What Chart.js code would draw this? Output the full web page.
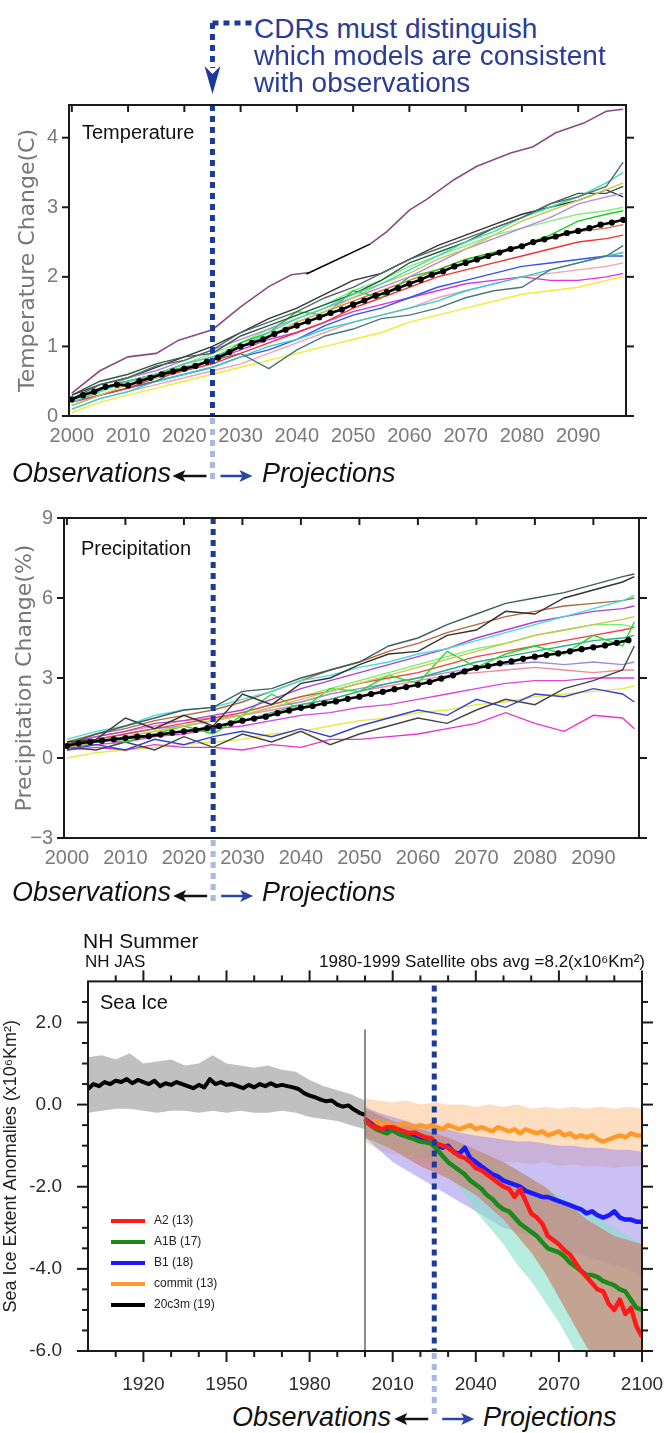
<!DOCTYPE html>
<html><head><meta charset="utf-8">
<script src="https://cdn.jsdelivr.net/npm/chart.js@4.4.1/dist/chart.umd.min.js"></script>
<style>
html,body{margin:0;padding:0;background:#fff}
body{position:relative;width:669px;height:1433px;overflow:hidden;font-family:"Liberation Sans",Arial,sans-serif}
.cv{position:absolute;left:0}
.t{position:absolute;white-space:nowrap;line-height:1}
.obs{font-style:italic;font-size:27px;color:#111}
.cdr{font-size:28px;color:#2a3c98;left:254px}
#ov{position:absolute;left:0;top:0;pointer-events:none}
</style></head><body>
<canvas id="cT" class="cv" width="669" height="378" style="top:82px"></canvas>
<canvas id="cP" class="cv" width="669" height="390" style="top:495px"></canvas>
<canvas id="cS" class="cv" width="669" height="456" style="top:944px"></canvas>

<div class="t cdr" style="top:15px">CDRs must distinguish</div>
<div class="t cdr" style="top:42px">which models are consistent</div>
<div class="t cdr" style="top:69px">with observations</div>

<div class="t" style="left:82px;top:122px;font-size:20px;color:#111">Temperature</div>
<div class="t" style="left:81px;top:538px;font-size:20px;color:#111">Precipitation</div>

<div class="t obs" style="left:12px;top:460px">Observations</div>
<div class="t obs" style="left:262px;top:460px">Projections</div>
<div class="t obs" style="left:12px;top:879px">Observations</div>
<div class="t obs" style="left:262px;top:879px">Projections</div>
<div class="t obs" style="left:232px;top:1404px">Observations</div>
<div class="t obs" style="left:483px;top:1404px">Projections</div>

<div class="t" style="left:83px;top:930px;font-size:21px;color:#111">NH Summer</div>
<div class="t" style="left:85px;top:953px;font-size:17px;color:#111">NH JAS</div>
<div class="t" style="right:24px;top:953px;font-size:17px;color:#111">1980-1999 Satellite obs avg =8.2(x10⁶Km²)</div>
<div class="t" style="left:100px;top:992px;font-size:20px;color:#111">Sea Ice</div>
<div id="legend"></div>

<svg id="ov" width="669" height="1433"></svg>

<script>
// ---------- shared ----------
const SPLIT_YEAR = 2025;

// ---------- Temperature ----------
const T_X_RANGE = [1999.5, 2098.5];
const T_Y_RANGE = [0, 4.47];
const T_XTICKS = [2000,2010,2020,2030,2040,2050,2060,2070,2080,2090];
const T_YTICKS = [0,1,2,3,4];
const T_YEARS = [2000,2005,2010,2015,2020,2025,2030,2035,2040,2045,2050,2055,2060,2065,2070,2075,2080,2085,2090,2095,2098];
const T_M01 = [0.25,0.45,0.55,0.72,0.80,0.95,1.20,1.35,1.50,1.70,1.85,2.05,2.25,2.40,2.55,2.70,2.85,3.05,3.15,3.30,3.65];
const T_M02 = [0.20,0.35,0.50,0.60,0.75,0.85,1.00,1.20,1.40,1.55,1.75,1.90,2.10,2.30,2.50,2.65,2.85,3.00,3.15,3.35,3.50];
const T_M03 = [0.15,0.30,0.45,0.55,0.70,0.80,1.00,1.15,1.35,1.50,1.70,1.90,2.05,2.25,2.40,2.60,2.80,2.95,3.10,3.25,3.35];
const T_M04 = [0.30,0.50,0.60,0.75,0.85,0.90,1.15,1.30,1.45,1.60,1.75,1.95,2.20,2.35,2.50,2.70,2.85,3.05,3.20,3.20,3.30];
const T_M05 = [0.20,0.35,0.55,0.65,0.80,0.95,1.10,1.25,1.40,1.55,1.70,1.85,2.00,2.20,2.40,2.55,2.70,2.85,3.05,3.15,3.20];
const T_M06 = [0.25,0.40,0.50,0.60,0.70,0.80,1.05,1.20,1.50,1.45,1.80,1.70,2.00,2.10,2.25,2.35,2.45,2.60,2.80,2.90,2.95];
const T_M07 = [0.25,0.40,0.50,0.60,0.75,0.85,1.00,1.15,1.35,1.50,1.65,1.80,1.95,2.10,2.25,2.35,2.45,2.55,2.65,2.70,2.75];
const T_M08 = [0.20,0.30,0.40,0.55,0.65,0.75,0.90,1.05,1.20,1.35,1.55,1.70,1.85,2.00,2.10,2.20,2.30,2.40,2.50,2.55,2.60];
const T_M09 = [0.15,0.30,0.40,0.50,0.70,0.80,0.90,0.68,0.95,1.15,1.25,1.40,1.45,1.55,1.70,1.80,1.85,2.10,2.20,2.30,2.45];
const T_M10 = [0.10,0.25,0.35,0.50,0.60,0.70,0.85,1.00,1.10,1.25,1.35,1.45,1.55,1.65,1.80,1.90,2.00,2.10,2.20,2.30,2.35];
const T_M11 = [0.20,0.30,0.40,0.50,0.60,0.70,0.85,0.95,1.10,1.30,1.45,1.55,1.70,1.85,1.95,2.05,2.15,2.20,2.25,2.30,2.30];
const T_M12 = [0.10,0.25,0.35,0.45,0.55,0.65,0.75,0.90,1.05,1.20,1.35,1.45,1.55,1.70,1.80,1.90,2.00,2.05,2.10,2.15,2.20];
const T_M13 = [0.25,0.40,0.50,0.60,0.70,0.80,0.95,1.10,1.20,1.35,1.50,1.60,1.70,1.80,1.90,1.95,2.00,1.95,1.95,2.00,2.05];
const T_M14 = [0.05,0.20,0.30,0.40,0.50,0.60,0.70,0.80,0.90,1.00,1.10,1.20,1.35,1.45,1.55,1.65,1.75,1.80,1.85,1.95,2.00];
const T_M15 = [0.20,0.35,0.50,0.60,0.75,0.90,1.05,1.25,1.45,1.60,1.80,1.95,2.15,2.30,2.45,2.60,2.70,2.80,2.90,2.95,3.00];
const T_M16 = [0.30,0.45,0.55,0.70,0.85,1.00,1.20,1.40,1.55,1.75,1.95,2.05,2.25,2.45,2.60,2.75,2.90,3.00,3.10,3.25,3.15];
const T_MODELS = [T_M01,T_M02,T_M03,T_M04,T_M05,T_M06,T_M07,T_M08,T_M09,T_M10,T_M11,T_M12,T_M13,T_M14,T_M15,T_M16];
const T_COLORS = ['#4f6b6b','#3ddcb0','#c8c850','#2e5e3e','#b585e5','#1ecb1e','#c87840','#ee3333','#4a7a7a','#33cccc','#3355ee','#f0a0b8','#dd33dd','#eeee33','#80ee80','#333333'];
const T_HIGH_YEARS = [2000,2005,2010,2015,2019,2025,2030,2035,2039,2042,2047,2053,2056,2060,2063,2068,2072,2078,2082,2086,2091,2095,2098];
const T_HIGH = [0.33,0.65,0.85,0.90,1.09,1.24,1.57,1.86,2.03,2.06,null,2.47,2.65,2.96,3.11,3.40,3.59,3.78,3.87,4.07,4.21,4.38,4.41];
const T_PATCH_YEARS = [2041.7,2053];
const T_PATCH = [2.04,2.47];
const T_MEAN_YEARS = [2000,2002,2004,2006,2008,2010,2012,2014,2016,2018,2020,2022,2024,2026,2028,2030,2032,2034,2036,2038,2040,2042,2044,2046,2048,2050,2052,2054,2056,2058,2060,2062,2064,2066,2068,2070,2072,2074,2076,2078,2080,2082,2084,2086,2088,2090,2092,2094,2096,2098];
const T_MEAN = [0.24,0.30,0.35,0.42,0.45,0.44,0.50,0.55,0.60,0.64,0.68,0.72,0.78,0.84,0.92,1.00,1.05,1.10,1.18,1.24,1.30,1.36,1.42,1.48,1.53,1.60,1.66,1.73,1.78,1.84,1.90,1.96,2.03,2.08,2.15,2.20,2.25,2.30,2.35,2.40,2.44,2.50,2.54,2.58,2.63,2.66,2.70,2.75,2.78,2.82];

// ---------- Precipitation ----------
const P_X_RANGE = [1999.5, 2097.8];
const P_Y_RANGE = [-3, 9];
const P_XTICKS = [2000,2010,2020,2030,2040,2050,2060,2070,2080,2090];
const P_YTICKS = [-3,0,3,6,9];
const P_YEARS = [2000,2005,2010,2015,2020,2025,2030,2035,2040,2045,2050,2055,2060,2065,2070,2075,2080,2085,2090,2095,2097];
const P_M01 = [0.5,0.9,1.2,1.5,1.8,1.9,2.5,2.6,3.0,3.3,3.6,4.2,4.5,5.0,5.4,5.8,6.0,6.2,6.5,6.8,6.9];
const P_M02 = [0.6,0.7,1.5,1.1,1.6,1.2,2.4,2.0,2.8,3.0,3.5,3.9,4.0,4.6,4.8,5.5,5.4,6.0,6.3,6.6,6.8];
const P_M03 = [0.7,1.0,1.2,1.6,1.8,1.9,2.2,2.5,2.9,3.1,3.4,3.6,3.9,4.1,4.4,4.7,5.0,5.3,5.6,5.9,6.1];
const P_M04 = [0.6,0.9,1.1,1.4,1.6,1.8,2.1,2.5,2.9,3.3,3.6,4.0,4.3,4.7,5.0,5.3,5.5,5.7,5.8,5.9,6.0];
const P_M05 = [0.5,0.8,1.0,1.3,1.4,1.6,1.8,2.2,2.6,2.9,3.2,3.5,3.8,4.1,4.5,4.8,5.1,5.3,5.5,5.6,5.7];
const P_M06 = [0.4,0.6,0.8,1.0,1.2,1.4,1.6,1.9,2.2,2.5,2.8,3.1,3.4,3.7,4.0,4.3,4.6,4.8,5.0,5.2,5.3];
const P_M07 = [0.5,0.7,0.6,0.9,1.2,0.9,1.6,2.4,1.8,2.6,2.5,3.1,2.8,4.0,3.4,3.9,4.2,3.9,4.6,4.2,5.1];
const P_M08 = [0.5,0.7,0.9,1.1,1.3,1.5,1.7,2.0,2.3,2.5,2.8,3.0,3.2,3.5,3.8,4.0,4.2,4.4,4.6,4.8,4.9];
const P_M09 = [0.4,0.6,0.7,0.9,1.0,1.2,1.4,1.7,2.0,2.2,2.5,2.8,3.0,3.3,3.6,3.8,4.0,4.2,4.4,4.5,4.6];
const P_M10 = [0.3,0.5,0.3,0.7,0.5,0.8,1.0,0.8,1.1,0.8,1.2,1.5,1.8,1.6,2.2,1.9,2.4,2.3,2.6,2.4,2.1];
const P_M11 = [0.4,0.3,0.6,0.3,0.8,0.4,0.9,0.6,1.0,0.5,0.9,1.2,1.5,1.3,1.8,2.2,2.0,2.6,2.9,3.3,4.2];
const P_M12 = [0.3,0.4,0.3,0.5,0.4,0.4,0.3,0.5,0.4,0.7,0.7,0.8,0.9,1.1,1.3,1.7,1.3,1.0,1.6,1.5,1.1];
const P_M13 = [0.4,0.5,0.6,0.8,0.9,1.1,1.2,1.4,1.6,1.7,1.9,2.0,2.2,2.4,2.6,2.8,2.9,2.9,3.0,3.0,3.0];
const P_M14 = [0.0,0.2,0.3,0.4,0.5,0.6,0.7,0.9,1.0,1.2,1.4,1.5,1.7,1.8,2.0,2.1,2.3,2.4,2.5,2.6,2.7];
const P_M15 = [0.5,0.7,0.9,1.1,1.2,1.4,1.6,1.9,2.1,2.4,2.6,2.8,3.0,3.2,3.4,3.5,3.6,3.5,3.6,3.5,3.6];
const P_M16 = [0.6,0.8,1.0,1.2,1.4,1.5,1.6,1.8,2.0,2.2,2.5,2.7,2.9,3.1,3.2,3.3,3.4,3.3,3.2,3.3,3.3];
const P_M17 = [0.3,0.6,0.8,1.0,1.2,1.4,1.7,2.0,2.3,2.6,2.9,3.2,3.5,3.8,4.1,4.3,4.6,4.8,5.0,5.0,4.9];
const P_MODELS = [P_M01,P_M02,P_M03,P_M04,P_M05,P_M06,P_M07,P_M08,P_M09,P_M10,P_M11,P_M12,P_M13,P_M14,P_M15,P_M16,P_M17];
const P_COLORS = ['#3f5f5f','#333333','#44dddd','#b06a3a','#b040d0','#c8c840','#22dd22','#ee4444','#33aa88','#3344cc','#444444','#ee33cc','#dd44dd','#e8e840','#9a8ae0','#f08aa0','#77ee77'];
const P_MEAN_YEARS = [2000,2002,2004,2006,2008,2010,2012,2014,2016,2018,2020,2022,2024,2026,2028,2030,2032,2034,2036,2038,2040,2042,2044,2046,2048,2050,2052,2054,2056,2058,2060,2062,2064,2066,2068,2070,2072,2074,2076,2078,2080,2082,2084,2086,2088,2090,2092,2094,2096];
const P_MEAN = [0.45,0.55,0.60,0.65,0.70,0.75,0.80,0.82,0.88,0.95,1.00,1.05,1.12,1.20,1.30,1.40,1.48,1.55,1.68,1.78,1.88,1.95,2.05,2.12,2.22,2.30,2.40,2.48,2.58,2.66,2.75,2.85,2.98,3.10,3.25,3.38,3.45,3.55,3.62,3.72,3.80,3.86,3.92,4.00,4.08,4.15,4.22,4.32,4.42];

// ---------- Sea ice ----------
const S_X_RANGE = [1900, 2100];
const S_Y_RANGE = [-6, 3];
const S_XTICKS = [1920,1950,1980,2010,2040,2070,2100];
const S_XMINOR = [1910,1930,1940,1960,1970,1990,2000,2020,2030,2050,2060,2080,2090];
const S_YTICKS = [-6,-4,-2,0,2];
const S_YMINOR = [-5.5,-5,-4.5,-3.5,-3,-2.5,-1.5,-1,-0.5,0.5,1,1.5,2.5];
const S_OBS_YEARS = [1900,1902,1904,1906,1908,1910,1912,1914,1916,1918,1920,1922,1924,1926,1928,1930,1932,1934,1936,1938,1940,1942,1944,1946,1948,1950,1952,1954,1956,1958,1960,1962,1964,1966,1968,1970,1972,1974,1976,1978,1980,1982,1984,1986,1988,1990,1992,1994,1996,1998,2000];
const S_OBS = [0.38,0.50,0.45,0.55,0.50,0.58,0.55,0.62,0.52,0.60,0.55,0.50,0.58,0.45,0.52,0.48,0.55,0.50,0.45,0.40,0.48,0.42,0.62,0.50,0.55,0.48,0.50,0.45,0.40,0.48,0.42,0.50,0.45,0.52,0.45,0.48,0.45,0.42,0.38,0.28,0.22,0.18,0.12,0.08,0.10,0.00,-0.05,-0.02,-0.12,-0.20,-0.25];
const S_OBS_BAND_YEARS = [1900,1905,1910,1915,1920,1925,1930,1935,1940,1945,1950,1955,1960,1965,1970,1975,1980,1985,1990,1995,2000];
const S_OBS_HI = [1.15,1.20,1.10,1.25,1.00,1.05,1.10,0.95,1.00,1.20,1.00,0.95,0.90,0.95,0.85,0.80,0.60,0.45,0.35,0.25,0.10];
const S_OBS_LO = [-0.20,-0.15,-0.10,-0.10,-0.15,-0.20,-0.15,-0.15,-0.20,-0.15,-0.20,-0.15,-0.20,-0.20,-0.15,-0.20,-0.30,-0.35,-0.40,-0.50,-0.60];
const S_YEARS = [2000,2002,2004,2006,2008,2010,2012,2014,2016,2018,2020,2022,2024,2026,2028,2030,2032,2034,2036,2038,2040,2042,2044,2046,2048,2050,2052,2054,2056,2058,2060,2062,2064,2066,2068,2070,2072,2074,2076,2078,2080,2082,2084,2086,2088,2090,2092,2094,2096,2098,2100];
const S_A2 = [-0.35,-0.50,-0.55,-0.60,-0.55,-0.55,-0.60,-0.65,-0.70,-0.68,-0.75,-0.80,-0.82,-0.95,-1.00,-1.05,-1.15,-1.25,-1.30,-1.40,-1.55,-1.60,-1.70,-1.80,-1.90,-2.00,-2.05,-2.25,-2.05,-2.35,-2.65,-2.75,-2.90,-3.20,-3.30,-3.40,-3.55,-3.65,-3.85,-4.05,-4.20,-4.35,-4.50,-4.55,-4.85,-5.00,-4.75,-5.10,-4.95,-5.40,-5.65];
const S_A1B = [-0.40,-0.50,-0.60,-0.65,-0.70,-0.60,-0.70,-0.75,-0.80,-0.85,-0.90,-0.92,-0.95,-1.10,-1.25,-1.40,-1.50,-1.60,-1.70,-1.85,-1.95,-2.05,-2.20,-2.30,-2.45,-2.55,-2.60,-2.75,-2.90,-3.00,-3.10,-3.20,-3.35,-3.50,-3.55,-3.60,-3.70,-3.85,-3.95,-4.05,-4.15,-4.15,-4.20,-4.30,-4.35,-4.40,-4.50,-4.55,-4.75,-4.95,-5.00];
const S_B1 = [-0.35,-0.45,-0.55,-0.60,-0.65,-0.62,-0.70,-0.75,-0.80,-0.78,-0.85,-0.90,-0.95,-1.00,-1.05,-1.00,-1.15,-1.20,-1.05,-1.30,-1.40,-1.50,-1.60,-1.70,-1.75,-1.85,-1.90,-1.95,-2.00,-2.10,-2.15,-2.20,-2.25,-2.25,-2.30,-2.35,-2.40,-2.45,-2.50,-2.55,-2.65,-2.60,-2.70,-2.75,-2.70,-2.60,-2.75,-2.80,-2.80,-2.85,-2.85];
const S_COMMIT = [-0.35,-0.45,-0.40,-0.50,-0.45,-0.55,-0.50,-0.45,-0.50,-0.55,-0.50,-0.55,-0.50,-0.55,-0.60,-0.50,-0.55,-0.60,-0.55,-0.50,-0.60,-0.55,-0.60,-0.65,-0.55,-0.60,-0.65,-0.60,-0.70,-0.60,-0.65,-0.70,-0.65,-0.75,-0.70,-0.65,-0.75,-0.70,-0.80,-0.75,-0.80,-0.75,-0.85,-0.90,-0.85,-0.80,-0.75,-0.80,-0.70,-0.75,-0.75];
const S_BAND_YEARS = [2000,2005,2010,2015,2020,2025,2030,2035,2040,2045,2050,2055,2060,2065,2070,2075,2080,2085,2090,2095,2100];
const S_COMMIT_HI = [0.15,0.10,0.05,0.10,0.00,0.05,0.00,0.00,-0.05,0.00,-0.05,0.00,-0.10,-0.05,-0.10,-0.05,-0.10,-0.05,-0.10,-0.05,-0.10];
const S_COMMIT_LO = [-0.90,-1.10,-1.20,-1.20,-1.30,-1.30,-1.35,-1.30,-1.40,-1.35,-1.40,-1.40,-1.45,-1.40,-1.50,-1.45,-1.50,-1.50,-1.55,-1.50,-1.50];
const S_B1_HI = [-0.05,-0.20,-0.30,-0.40,-0.50,-0.55,-0.60,-0.70,-0.75,-0.80,-0.85,-0.90,-0.90,-0.95,-1.00,-1.00,-1.05,-1.05,-1.10,-1.10,-1.15];
const S_B1_LO = [-0.80,-1.10,-1.40,-1.60,-1.80,-2.00,-2.20,-2.40,-2.60,-2.80,-3.00,-3.10,-3.20,-3.30,-3.40,-3.60,-3.70,-3.80,-3.90,-4.00,-4.20];
const S_A1B_HI = [-0.10,-0.30,-0.45,-0.55,-0.65,-0.75,-0.90,-1.00,-1.15,-1.30,-1.45,-1.60,-1.80,-2.00,-2.20,-2.40,-2.60,-2.80,-3.00,-3.20,-3.40];
const S_A1B_LO = [-0.80,-1.00,-1.10,-1.20,-1.25,-1.35,-1.70,-2.10,-2.60,-3.00,-3.40,-3.90,-4.30,-4.80,-5.30,-5.90,-6.40,-6.50,-6.50,-6.50,-6.50];
const S_A2_HI = [-0.10,-0.25,-0.40,-0.50,-0.60,-0.70,-0.80,-0.95,-1.10,-1.25,-1.40,-1.60,-1.80,-2.00,-2.30,-2.50,-2.80,-3.00,-3.20,-3.30,-3.40];
const S_A2_LO = [-0.80,-0.95,-1.10,-1.30,-1.50,-1.65,-1.80,-2.00,-2.20,-2.50,-2.80,-3.20,-3.60,-4.10,-4.70,-5.30,-5.90,-6.30,-6.50,-6.50,-6.50];
const S_DIVIDER_YEAR = 2000;
const S_DIVIDER_TOP = 1.83;
const S_LEGEND_LABELS = ['A2 (13)','A1B (17)','B1 (18)','commit (13)','20c3m (19)'];
const S_LEGEND_COLORS = ['#ff1a1a','#1a8a1a','#1a1aff','#ff9a2a','#000000'];

// ---------- helpers ----------
const pts = (xs, ys) => xs.map((x, i) => ({x: x, y: ys[i]}));

const framePlugin = {
  id: 'frame',
  afterDatasetsDraw(chart, args, o) {
    const ctx = chart.ctx, a = chart.chartArea, sx = chart.scales.x, sy = chart.scales.y;
    ctx.save();
    ctx.strokeStyle = o.color; ctx.lineWidth = o.tickWidth; ctx.lineCap = 'butt';
    for (const m of o.marks) {
      for (const v of m.values) {
        ctx.beginPath();
        if (m.side === 'top' || m.side === 'bottom') {
          const p = sx.getPixelForValue(v);
          const y0 = m.side === 'top' ? a.top : a.bottom;
          const d = m.side === 'top' ? -m.len : m.len;
          ctx.moveTo(p, y0); ctx.lineTo(p, y0 + d);
        } else {
          const p = sy.getPixelForValue(v);
          const x0 = m.side === 'left' ? a.left : a.right;
          const d = m.side === 'left' ? -m.len : m.len;
          ctx.moveTo(x0, p); ctx.lineTo(x0 + d, p);
        }
        ctx.stroke();
      }
    }
    ctx.lineWidth = o.width;
    ctx.strokeRect(a.left, a.top, a.right - a.left, a.bottom - a.top);
    ctx.restore();
  }
};

function makeOpts(c) {
  return {
    responsive: false, animation: false, events: [],
    layout: {padding: c.pad},
    elements: {point: {radius: 0}, line: {tension: 0}},
    plugins: {legend: {display: false}, tooltip: {enabled: false}, frame: c.frame},
    scales: {
      x: {
        type: 'linear', min: c.xr[0], max: c.xr[1],
        afterBuildTicks: s => { s.ticks = c.xt.map(v => ({value: v})); },
        afterFit: s => { s.height = c.xh; },
        grid: {display: false, drawTicks: true, tickLength: c.xtl}, border: {display: false},
        ticks: {padding: c.xpad, autoSkip: false, maxRotation: 0, color: c.tickColor, font: c.tickFont, callback: v => String(v)}
      },
      y: {
        type: 'linear', min: c.yr[0], max: c.yr[1],
        afterBuildTicks: s => { s.ticks = c.yt.map(v => ({value: v})); },
        afterFit: s => { s.width = c.yw; },
        grid: {display: false, drawTicks: false}, border: {display: false},
        ticks: {padding: c.ypad, color: c.tickColor, font: c.tickFont, callback: c.yfmt},
        title: {display: true, text: c.ytitle, color: c.titleColor, font: c.titleFont, padding: {top: c.titlePad, bottom: 0}}
      }
    }
  };
}

function splitLine(yr) {
  return {data: pts([SPLIT_YEAR, SPLIT_YEAR], [yr[1], yr[0]]), borderColor: '#1c3a99', borderWidth: 5,
          borderDash: [6, 5], pointRadius: 0, order: -5, fill: false};
}

const narrowTick = {family: '"Liberation Sans Narrow","Liberation Sans",Arial', size: 20};

// ---------- Temperature chart ----------
const tSets = [];
tSets.push(splitLine(T_Y_RANGE));
T_MODELS.forEach((m, i) => tSets.push({data: pts(T_YEARS, m), borderColor: T_COLORS[i], borderWidth: 1.4, order: 5}));
tSets.push({data: pts(T_HIGH_YEARS, T_HIGH), borderColor: '#8a4a8a', borderWidth: 1.6, spanGaps: false, order: 4});
tSets.push({data: pts(T_PATCH_YEARS, T_PATCH), borderColor: '#000', borderWidth: 1.6, order: 3});
tSets.push({data: pts(T_MEAN_YEARS, T_MEAN), borderColor: '#000', backgroundColor: '#000', borderWidth: 2.6, pointRadius: 1.8, order: 1});
const chartT = new Chart(document.getElementById('cT'), {
  type: 'line', data: {datasets: tSets}, plugins: [framePlugin],
  options: makeOpts({
    pad: {left: 0, right: 43, top: 0, bottom: 0},
    xr: T_X_RANGE, yr: T_Y_RANGE, xt: T_XTICKS, yt: T_YTICKS, xh: 44, yw: 69,
    xtl: 6, xpad: 2, ypad: 11, tickColor: '#7a7a7a', tickFont: narrowTick,
    yfmt: v => String(v),
    ytitle: 'Temperature Change(C)', titleColor: '#777',
    titleFont: {family: '"DejaVu Sans",sans-serif', size: 22}, titlePad: 15,
    frame: {color: '#1a1a1a', width: 2, tickWidth: 2, marks: [
      {side: 'left', values: T_YTICKS, len: 7},
      {side: 'right', values: T_YTICKS, len: 8},
      {side: 'top', values: T_XTICKS, len: -7}
    ]}
  })
});

// ---------- Precipitation chart ----------
const pSets = [];
pSets.push(splitLine(P_Y_RANGE));
P_MODELS.forEach((m, i) => pSets.push({data: pts(P_YEARS, m), borderColor: P_COLORS[i], borderWidth: 1.4, order: 5}));
pSets.push({data: pts(P_MEAN_YEARS, P_MEAN), borderColor: '#000', backgroundColor: '#000', borderWidth: 2.6, pointRadius: 1.8, order: 1});
const chartP = new Chart(document.getElementById('cP'), {
  type: 'line', data: {datasets: pSets}, plugins: [framePlugin],
  options: makeOpts({
    pad: {left: 0, right: 30, top: 0, bottom: 0},
    xr: P_X_RANGE, yr: P_Y_RANGE, xt: P_XTICKS, yt: P_YTICKS, xh: 47, yw: 64,
    xtl: 6, xpad: 2, ypad: 11, tickColor: '#7a7a7a', tickFont: narrowTick,
    yfmt: v => (v < 0 ? '\u2212' + Math.abs(v) : String(v)),
    ytitle: 'Precipitation Change(%)', titleColor: '#777',
    titleFont: {family: '"DejaVu Sans",sans-serif', size: 22}, titlePad: 12,
    frame: {color: '#1a1a1a', width: 2, tickWidth: 2, marks: [
      {side: 'left', values: P_YTICKS, len: 7},
      {side: 'right', values: P_YTICKS, len: 8},
      {side: 'top', values: P_XTICKS, len: -7}
    ]}
  })
});

// ---------- Sea ice chart ----------
const sSets = [];
sSets.push(splitLine([S_Y_RANGE[0], 2.9]));
function band(xs, lo, hi, color, order) {
  sSets.push({data: pts(xs, lo), borderWidth: 0, borderColor: 'rgba(0,0,0,0)', order: order, fill: false});
  sSets.push({data: pts(xs, hi), borderWidth: 0, borderColor: 'rgba(0,0,0,0)', backgroundColor: color, order: order, fill: '-1'});
}
band(S_OBS_BAND_YEARS, S_OBS_LO, S_OBS_HI, 'rgba(165,165,165,0.7)', 20);
band(S_BAND_YEARS, S_COMMIT_LO, S_COMMIT_HI, 'rgba(253,200,150,0.6)', 19);
band(S_BAND_YEARS, S_B1_LO, S_B1_HI, 'rgba(160,140,235,0.55)', 18);
band(S_BAND_YEARS, S_A1B_LO, S_A1B_HI, 'rgba(135,225,200,0.6)', 17);
band(S_BAND_YEARS, S_A2_LO, S_A2_HI, 'rgba(200,130,112,0.68)', 16);
sSets.push({data: pts([S_DIVIDER_YEAR, S_DIVIDER_YEAR], [S_DIVIDER_TOP, S_Y_RANGE[0]]), borderColor: '#666', borderWidth: 1.5, order: 0});
const S_SERIES = [S_A2, S_A1B, S_B1, S_COMMIT];
S_SERIES.forEach((s, i) => sSets.push({label: S_LEGEND_LABELS[i], data: pts(S_YEARS, s), borderColor: S_LEGEND_COLORS[i], borderWidth: 4.5, order: 1 + i, borderJoinStyle: 'round'}));
sSets.push({label: S_LEGEND_LABELS[4], data: pts(S_OBS_YEARS, S_OBS), borderColor: S_LEGEND_COLORS[4], borderWidth: 4, order: 6, borderJoinStyle: 'round'});
const chartS = new Chart(document.getElementById('cS'), {
  type: 'line', data: {datasets: sSets}, plugins: [framePlugin],
  options: makeOpts({
    pad: {left: 0, right: 27, top: 0, bottom: 0},
    xr: S_X_RANGE, yr: S_Y_RANGE, xt: S_XTICKS, yt: S_YTICKS, xh: 49, yw: 88,
    xtl: 20, xpad: 2, ypad: 26, tickColor: '#2a2a2a', tickFont: {family: '"Liberation Sans",Arial', size: 19},
    yfmt: v => v.toFixed(1),
    ytitle: 'Sea Ice Extent Anomalies (x10\u2076Km\u00b2)', titleColor: '#222',
    titleFont: {family: '"Liberation Sans",Arial', size: 18}, titlePad: 0,
    frame: {color: '#1a1a1a', width: 2, tickWidth: 2, marks: [
      {side: 'left', values: S_YTICKS, len: 11}, {side: 'left', values: S_YMINOR, len: 6},
      {side: 'right', values: S_YTICKS, len: 11}, {side: 'right', values: S_YMINOR, len: 6},
      {side: 'top', values: S_XTICKS, len: 11}, {side: 'top', values: S_XMINOR, len: 6},
      {side: 'bottom', values: S_XTICKS, len: 11}, {side: 'bottom', values: S_XMINOR, len: 6}
    ]}
  })
});

// ---------- legend (HTML) ----------
const leg = document.getElementById('legend');
S_LEGEND_LABELS.forEach((lab, i) => {
  const y = 1221 + i * 21;
  const ln = document.createElement('div');
  ln.style.cssText = `position:absolute;left:111px;top:${y - 2}px;width:34px;height:4px;background:${S_LEGEND_COLORS[i]}`;
  const tx = document.createElement('div');
  tx.className = 't';
  tx.style.cssText = `left:154px;top:${y - 7}px;font-size:12px;color:#222`;
  tx.textContent = lab;
  leg.appendChild(ln); leg.appendChild(tx);
});

// ---------- overlay: split extensions, arrows, header pointer ----------
const NS = 'http://www.w3.org/2000/svg';
const ov = document.getElementById('ov');
function el(tag, attrs) { const e = document.createElementNS(NS, tag); for (const k in attrs) e.setAttribute(k, attrs[k]); ov.appendChild(e); return e; }
function arrowPair(cx, y) {
  el('line', {x1: cx - 6, y1: y, x2: cx - 30, y2: y, stroke: '#111', 'stroke-width': 2.5});
  el('polygon', {points: `${cx - 40},${y} ${cx - 27},${y - 6} ${cx - 30},${y} ${cx - 27},${y + 6}`, fill: '#111'});
  el('line', {x1: cx + 8, y1: y, x2: cx + 30, y2: y, stroke: '#2a44a8', 'stroke-width': 2.5});
  el('polygon', {points: `${cx + 40},${y} ${cx + 27},${y - 6} ${cx + 30},${y} ${cx + 27},${y + 6}`, fill: '#2a44a8'});
}
function extension(chart, canvasTop, yEnd, arrowY) {
  const px = chart.scales.x.getPixelForValue(SPLIT_YEAR);
  const y0 = canvasTop + chart.chartArea.bottom + 2;
  el('line', {x1: px, y1: y0, x2: px, y2: yEnd, stroke: '#a9b9e3', 'stroke-width': 5, 'stroke-dasharray': '6 5'});
  arrowPair(px, arrowY);
}
extension(chartT, 82, 482, 476);
extension(chartP, 495, 905, 896);
extension(chartS, 944, 1416, 1419);
const hx = chartT.scales.x.getPixelForValue(SPLIT_YEAR);
el('line', {x1: hx, y1: 23, x2: 252, y2: 23, stroke: '#1c3a99', 'stroke-width': 5, 'stroke-dasharray': '6 5'});
el('line', {x1: hx, y1: 23, x2: hx, y2: 68, stroke: '#1c3a99', 'stroke-width': 5, 'stroke-dasharray': '6 5'});
el('polygon', {points: `${hx},94 ${hx - 8},66 ${hx},74 ${hx + 8},66`, fill: '#1c3a99'});
</script>
</body></html>
